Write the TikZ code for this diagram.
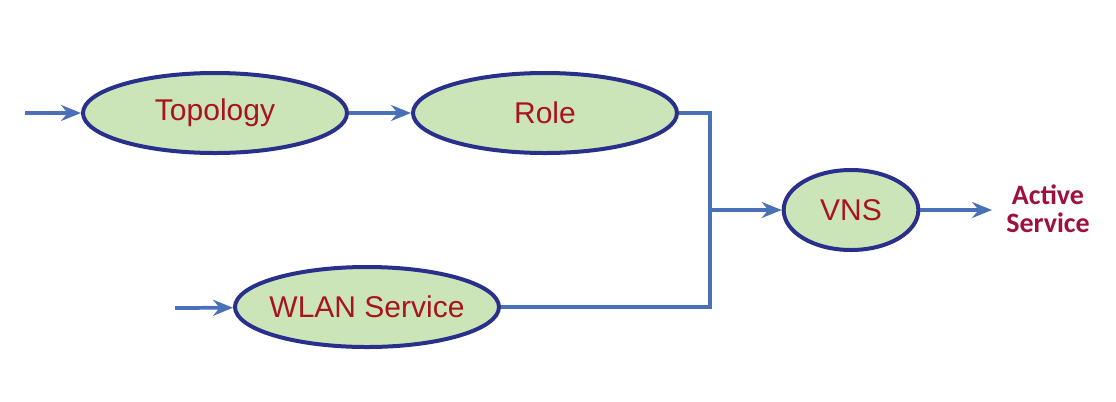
\documentclass[tikz,border=0pt]{standalone}
\usepackage{fontspec}
\setmainfont{Liberation Sans}
\newfontfamily\asfont{Carlito}
\usetikzlibrary{shapes.geometric,arrows.meta}
\definecolor{fillgreen}{RGB}{204,229,184}
\definecolor{navy}{RGB}{40,48,140}
\definecolor{lineblue}{RGB}{74,112,184}
\definecolor{textred}{RGB}{168,20,30}
\definecolor{asred}{RGB}{160,16,60}
\newcommand{\ovtxt}[1]{\makebox[0pt]{#1}}
\tikzset{
  oval/.style={ellipse, draw=navy, line width=3pt, fill=fillgreen, inner sep=0pt,
    minimum height=60pt, text=textred, font=\fontsize{22.5}{26}\selectfont},
  conn/.style={draw=lineblue, line width=2.8pt},
  arr/.style={conn, -{Stealth[length=15pt,width=12pt,inset=5pt]}},
}
\begin{document}
\begin{tikzpicture}[x=0.75pt,y=-0.75pt]
\useasboundingbox (0,0) rectangle (1116,401);
\node[oval, minimum width=198pt] (topo) at (215,113) {\ovtxt{Topology}};
\node[oval, minimum width=198pt] (role) at (545,113) {\ovtxt{Role}};
\node[oval, minimum width=198pt] (wlan) at (367,307) {\ovtxt{WLAN Service}};
\node[oval, minimum width=101pt] (vns) at (851,210) {\ovtxt{VNS}};
\node[text=asred, font=\asfont\bfseries\fontsize{21}{21}\selectfont, align=center, inner sep=0pt] (as) at (1048,209) {Active\\Service};
\coordinate (in1) at (25,113);
\coordinate (in2) at (175,308);
\coordinate (jt) at (710,113);
\coordinate (jb) at (710,307);
\coordinate (jm) at (710,210);
\coordinate (out) at (992,210);
\draw[arr] (in1) -- (topo);
\draw[arr] (topo) -- (role);
\draw[arr] (in2) -- (wlan);
\draw[conn] (role.east) -- (jt) -- (jb) -- (wlan.east);
\draw[arr] (jm) -- (vns);
\draw[arr] (vns) -- (out);
\end{tikzpicture}
\end{document}
